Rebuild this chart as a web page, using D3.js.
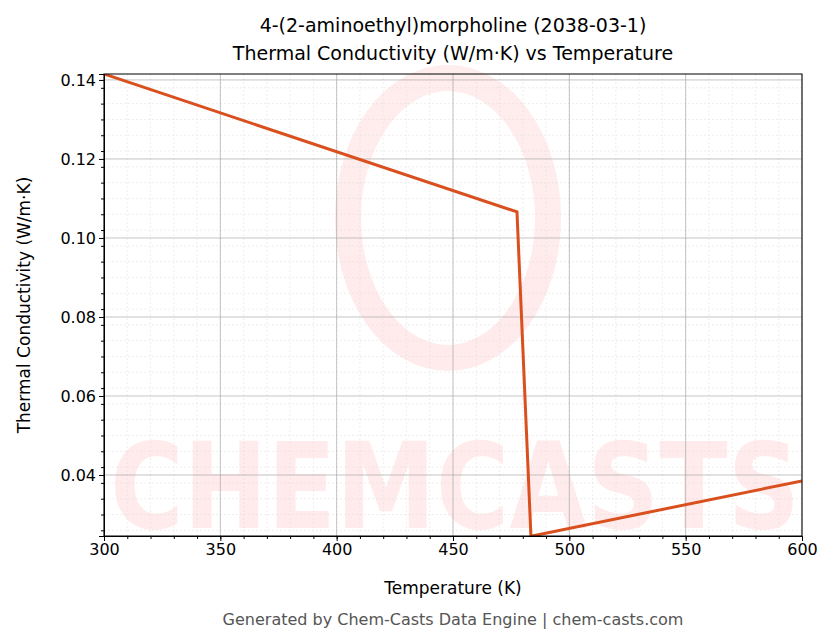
<!DOCTYPE html>
<html><head><meta charset="utf-8">
<script src="https://cdn.jsdelivr.net/npm/d3@7"></script>
<style>body{margin:0;background:#fff}text{font-family:"DejaVu Sans",sans-serif}</style>
</head><body><svg id="c" width="836" height="644"></svg>
<script>
const temps=[300,477.5,483.5,600];
const values=[0.1415,0.1066,0.0245,0.0385];
const xTicks=[300,350,400,450,500,550,600];
const yTicks=[0.04,0.06,0.08,0.10,0.12,0.14];
const svg=d3.select("#c");
const L=104,R=802,T=74,B=536;
const x=d3.scaleLinear().domain([300,600]).range([L,R]);
const y=d3.scaleLinear().domain([0.02456,0.1415]).range([B,T]);
const wm=svg.append("g").attr("opacity",0.1);
wm.append("ellipse").attr("cx",448).attr("cy",218).attr("rx",100).attr("ry",140).attr("fill","none").attr("stroke","#f44").attr("stroke-width",26);
wm.append("text").attr("x",455).attr("y",528).attr("text-anchor","middle").attr("font-size",120).attr("font-weight","bold").attr("fill","#f44").attr("textLength",690).attr("lengthAdjust","spacingAndGlyphs").text("CHEMCASTS");
const xm=d3.range(300,601,10), ym=d3.range(0.026,0.142,0.004);
const g=svg.append("g");
xm.forEach(v=>g.append("line").attr("x1",x(v)).attr("x2",x(v)).attr("y1",T).attr("y2",B).attr("stroke","#ddd").attr("stroke-width",0.5).attr("stroke-dasharray","2,2"));
ym.forEach(v=>g.append("line").attr("y1",y(v)).attr("y2",y(v)).attr("x1",L).attr("x2",R).attr("stroke","#ddd").attr("stroke-width",0.5).attr("stroke-dasharray","2,2"));
xTicks.forEach(v=>g.append("line").attr("x1",x(v)).attr("x2",x(v)).attr("y1",T).attr("y2",B).attr("stroke","#aaa").attr("stroke-width",0.7));
yTicks.forEach(v=>g.append("line").attr("y1",y(v)).attr("y2",y(v)).attr("x1",L).attr("x2",R).attr("stroke","#aaa").attr("stroke-width",0.7));
svg.append("defs").append("clipPath").attr("id","cp").append("rect").attr("x",L).attr("y",T).attr("width",R-L).attr("height",B-T);
svg.append("path").datum(temps.map((t,i)=>[t,values[i]])).attr("clip-path","url(#cp)")
 .attr("d",d3.line().x(d=>x(d[0])).y(d=>y(d[1]))).attr("fill","none").attr("stroke","#d9501e").attr("stroke-width",3);
svg.append("rect").attr("x",L).attr("y",T).attr("width",R-L).attr("height",B-T).attr("fill","none").attr("stroke","#000");
const mx=svg.append("g").attr("transform",`translate(0,${B})`).call(d3.axisBottom(x).tickValues(xm).tickSize(3).tickFormat(""));
mx.select(".domain").remove(); mx.selectAll("text").remove();
const my=svg.append("g").attr("transform",`translate(${L},0)`).call(d3.axisLeft(y).tickValues(ym).tickSize(3).tickFormat(""));
my.select(".domain").remove(); my.selectAll("text").remove();
const xa=svg.append("g").attr("transform",`translate(0,${B})`).call(d3.axisBottom(x).tickValues(xTicks).tickSize(5).tickFormat(d3.format("d")));
const ya=svg.append("g").attr("transform",`translate(${L},0)`).call(d3.axisLeft(y).tickValues(yTicks).tickSize(5).tickFormat(d3.format(".2f")));
svg.selectAll(".tick text").attr("font-size",16).attr("font-family","DejaVu Sans").attr("fill","#000");
svg.append("text").attr("x",453).attr("y",594).attr("text-anchor","middle").attr("font-size",17).text("Temperature (K)");
svg.append("text").attr("transform","translate(30,305) rotate(-90)").attr("text-anchor","middle").attr("font-size",17).text("Thermal Conductivity (W/m·K)");
svg.append("text").attr("x",453).attr("y",32).attr("text-anchor","middle").attr("font-size",19).text("4-(2-aminoethyl)morpholine (2038-03-1)");
svg.append("text").attr("x",453).attr("y",60).attr("text-anchor","middle").attr("font-size",19).text("Thermal Conductivity (W/m·K) vs Temperature");
svg.append("text").attr("x",453).attr("y",625).attr("text-anchor","middle").attr("font-size",16).attr("fill","#555").text("Generated by Chem-Casts Data Engine | chem-casts.com");
</script></body></html>
